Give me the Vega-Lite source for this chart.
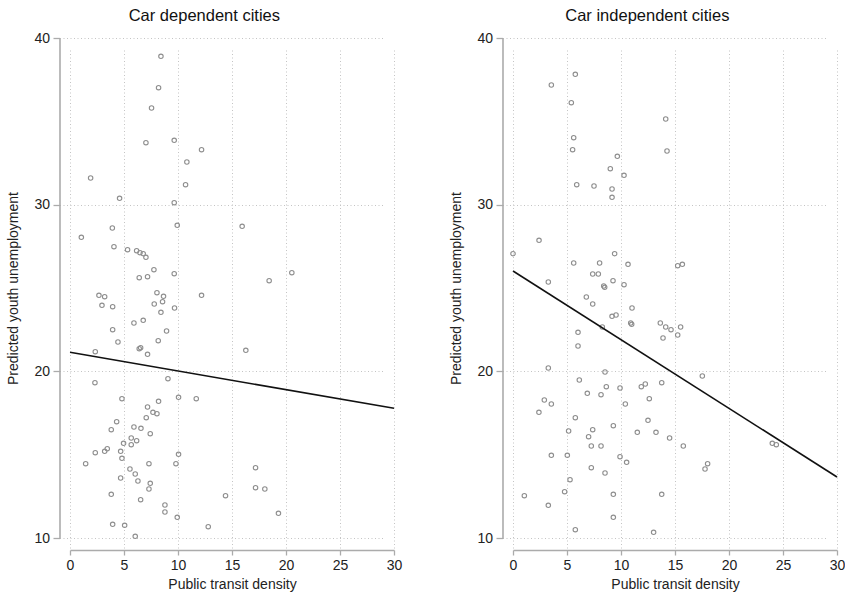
{
  "$schema": "https://vega.github.io/schema/vega-lite/v6.json",
  "padding": {"left": 6, "top": 7, "right": 0, "bottom": 0},
  "background": "white",
  "config": {
    "view": {"stroke": null},
    "font": "Liberation Sans",
    "axis": {
      "domainColor": "#ababab",
      "domainWidth": 1.6,
      "tickColor": "#ababab",
      "tickSize": 6.5,
      "tickWidth": 1.3,
      "labelFontSize": 14,
      "labelColor": "#222222",
      "labelPadding": 3.5,
      "labelFlush": false,
      "labelOverlap": false,
      "titleFontSize": 14,
      "titleFontWeight": "normal",
      "titleColor": "#222222",
      "gridColor": "#c4c4c4",
      "gridDash": [1, 2.5],
      "gridWidth": 1
    },
    "axisX": {"offset": 12, "tickSize": 5, "titlePadding": 5},
    "axisY": {"offset": 10.5, "titlePadding": 13},
    "title": {"fontSize": 16.5, "fontWeight": "normal", "color": "#111111", "frame": "bounds", "anchor": "middle", "offset": 7},
    "concat": {"spacing": 47}
  },
  "datasets": {
    "dep": [
      {"density": 8.42, "unemp": 38.9}, {"density": 8.2, "unemp": 37.02}, {"density": 7.55, "unemp": 35.8},
      {"density": 7.03, "unemp": 33.72}, {"density": 9.65, "unemp": 33.86}, {"density": 12.18, "unemp": 33.3},
      {"density": 10.82, "unemp": 32.56}, {"density": 10.7, "unemp": 31.2}, {"density": 1.91, "unemp": 31.6},
      {"density": 4.59, "unemp": 30.38}, {"density": 9.65, "unemp": 30.12}, {"density": 9.93, "unemp": 28.76},
      {"density": 15.94, "unemp": 28.7}, {"density": 3.92, "unemp": 28.6}, {"density": 1.05, "unemp": 28.04},
      {"density": 4.07, "unemp": 27.48}, {"density": 5.33, "unemp": 27.3}, {"density": 6.17, "unemp": 27.24},
      {"density": 6.48, "unemp": 27.12}, {"density": 6.78, "unemp": 27.06}, {"density": 7.03, "unemp": 26.84},
      {"density": 7.77, "unemp": 26.1}, {"density": 6.41, "unemp": 25.62}, {"density": 7.18, "unemp": 25.68},
      {"density": 9.65, "unemp": 25.86}, {"density": 18.44, "unemp": 25.44}, {"density": 20.54, "unemp": 25.92},
      {"density": 2.68, "unemp": 24.56}, {"density": 3.21, "unemp": 24.48}, {"density": 8.05, "unemp": 24.72},
      {"density": 8.66, "unemp": 24.5}, {"density": 12.18, "unemp": 24.56}, {"density": 2.96, "unemp": 23.96},
      {"density": 3.95, "unemp": 23.88}, {"density": 8.57, "unemp": 24.18}, {"density": 7.8, "unemp": 24.04},
      {"density": 9.68, "unemp": 23.8}, {"density": 8.42, "unemp": 23.54}, {"density": 6.78, "unemp": 23.06},
      {"density": 5.92, "unemp": 22.9}, {"density": 3.95, "unemp": 22.5}, {"density": 8.94, "unemp": 22.42},
      {"density": 8.17, "unemp": 21.84}, {"density": 4.44, "unemp": 21.76}, {"density": 6.41, "unemp": 21.36},
      {"density": 6.54, "unemp": 21.42}, {"density": 7.18, "unemp": 21.02}, {"density": 2.34, "unemp": 21.18},
      {"density": 16.28, "unemp": 21.26}, {"density": 2.31, "unemp": 19.32}, {"density": 9.07, "unemp": 19.56},
      {"density": 4.81, "unemp": 18.36}, {"density": 8.2, "unemp": 18.2}, {"density": 10.05, "unemp": 18.44},
      {"density": 11.69, "unemp": 18.36}, {"density": 7.18, "unemp": 17.86}, {"density": 7.68, "unemp": 17.54},
      {"density": 8.05, "unemp": 17.46}, {"density": 7.06, "unemp": 17.22}, {"density": 4.32, "unemp": 16.98},
      {"density": 5.92, "unemp": 16.66}, {"density": 6.57, "unemp": 16.58}, {"density": 3.82, "unemp": 16.5},
      {"density": 7.43, "unemp": 16.26}, {"density": 5.67, "unemp": 16.0}, {"density": 6.17, "unemp": 15.84},
      {"density": 4.96, "unemp": 15.68}, {"density": 5.67, "unemp": 15.6}, {"density": 3.45, "unemp": 15.36},
      {"density": 3.21, "unemp": 15.2}, {"density": 2.34, "unemp": 15.12}, {"density": 4.69, "unemp": 15.2},
      {"density": 10.05, "unemp": 15.02}, {"density": 4.81, "unemp": 14.78}, {"density": 1.45, "unemp": 14.46},
      {"density": 7.31, "unemp": 14.46}, {"density": 9.81, "unemp": 14.46}, {"density": 17.18, "unemp": 14.22},
      {"density": 5.55, "unemp": 14.14}, {"density": 6.04, "unemp": 13.84}, {"density": 4.69, "unemp": 13.6},
      {"density": 6.29, "unemp": 13.42}, {"density": 7.43, "unemp": 13.28}, {"density": 7.31, "unemp": 12.94},
      {"density": 17.18, "unemp": 13.02}, {"density": 18.04, "unemp": 12.94}, {"density": 3.82, "unemp": 12.62},
      {"density": 14.4, "unemp": 12.54}, {"density": 6.54, "unemp": 12.3}, {"density": 8.79, "unemp": 11.98},
      {"density": 8.79, "unemp": 11.56}, {"density": 19.3, "unemp": 11.48}, {"density": 9.93, "unemp": 11.24},
      {"density": 3.95, "unemp": 10.82}, {"density": 5.06, "unemp": 10.76}, {"density": 12.8, "unemp": 10.68},
      {"density": 6.04, "unemp": 10.1}
    ],
    "depfit": [{"density": 0, "unemp": 21.14}, {"density": 30, "unemp": 17.78}],
    "ind": [
      {"density": 5.77, "unemp": 37.82}, {"density": 3.55, "unemp": 37.18}, {"density": 5.4, "unemp": 36.12},
      {"density": 5.62, "unemp": 34.02}, {"density": 5.52, "unemp": 33.3}, {"density": 14.14, "unemp": 35.14},
      {"density": 14.26, "unemp": 33.22}, {"density": 9.66, "unemp": 32.9}, {"density": 9.01, "unemp": 32.16},
      {"density": 10.28, "unemp": 31.76}, {"density": 5.9, "unemp": 31.2}, {"density": 7.5, "unemp": 31.12},
      {"density": 9.17, "unemp": 30.94}, {"density": 9.17, "unemp": 30.44}, {"density": 2.41, "unemp": 27.86},
      {"density": 0.0, "unemp": 27.06}, {"density": 9.41, "unemp": 27.06}, {"density": 5.62, "unemp": 26.5},
      {"density": 8.02, "unemp": 26.5}, {"density": 10.65, "unemp": 26.42}, {"density": 15.25, "unemp": 26.34},
      {"density": 15.68, "unemp": 26.42}, {"density": 7.38, "unemp": 25.84}, {"density": 7.9, "unemp": 25.84},
      {"density": 3.27, "unemp": 25.36}, {"density": 9.26, "unemp": 25.44}, {"density": 8.4, "unemp": 25.12},
      {"density": 8.49, "unemp": 25.04}, {"density": 10.28, "unemp": 25.2}, {"density": 6.79, "unemp": 24.46},
      {"density": 7.38, "unemp": 24.04}, {"density": 11.02, "unemp": 23.8}, {"density": 9.17, "unemp": 23.3},
      {"density": 9.54, "unemp": 23.38}, {"density": 10.9, "unemp": 22.9}, {"density": 10.99, "unemp": 22.82},
      {"density": 13.64, "unemp": 22.9}, {"density": 14.14, "unemp": 22.66}, {"density": 14.63, "unemp": 22.5},
      {"density": 15.52, "unemp": 22.66}, {"density": 15.25, "unemp": 22.18}, {"density": 13.89, "unemp": 22.0},
      {"density": 8.27, "unemp": 22.66}, {"density": 6.02, "unemp": 22.34}, {"density": 6.02, "unemp": 21.52},
      {"density": 3.27, "unemp": 20.2}, {"density": 8.52, "unemp": 19.96}, {"density": 17.53, "unemp": 19.72},
      {"density": 6.14, "unemp": 19.48}, {"density": 13.77, "unemp": 19.32}, {"density": 12.25, "unemp": 19.24},
      {"density": 11.88, "unemp": 19.08}, {"density": 8.64, "unemp": 19.08}, {"density": 9.91, "unemp": 19.0},
      {"density": 6.88, "unemp": 18.68}, {"density": 8.15, "unemp": 18.6}, {"density": 12.62, "unemp": 18.36},
      {"density": 2.9, "unemp": 18.28}, {"density": 3.55, "unemp": 18.04}, {"density": 10.4, "unemp": 18.04},
      {"density": 2.4, "unemp": 17.54}, {"density": 5.77, "unemp": 17.22}, {"density": 12.5, "unemp": 17.06},
      {"density": 9.29, "unemp": 16.74}, {"density": 5.15, "unemp": 16.42}, {"density": 7.38, "unemp": 16.5},
      {"density": 11.51, "unemp": 16.34}, {"density": 13.24, "unemp": 16.34}, {"density": 7.0, "unemp": 16.08},
      {"density": 14.5, "unemp": 16.0}, {"density": 7.25, "unemp": 15.52}, {"density": 8.15, "unemp": 15.52},
      {"density": 15.77, "unemp": 15.52}, {"density": 24.01, "unemp": 15.68}, {"density": 24.38, "unemp": 15.6},
      {"density": 3.55, "unemp": 14.96}, {"density": 5.03, "unemp": 14.96}, {"density": 9.91, "unemp": 14.88},
      {"density": 10.52, "unemp": 14.54}, {"density": 18.02, "unemp": 14.46}, {"density": 17.78, "unemp": 14.14},
      {"density": 7.25, "unemp": 14.22}, {"density": 8.52, "unemp": 13.9}, {"density": 5.28, "unemp": 13.5},
      {"density": 4.78, "unemp": 12.78}, {"density": 9.29, "unemp": 12.62}, {"density": 13.77, "unemp": 12.62},
      {"density": 1.05, "unemp": 12.54}, {"density": 3.27, "unemp": 11.96}, {"density": 9.29, "unemp": 11.24},
      {"density": 5.77, "unemp": 10.5}, {"density": 13.02, "unemp": 10.34}
    ],
    "indfit": [{"density": 0, "unemp": 26.02}, {"density": 30, "unemp": 13.66}]
  },
  "hconcat": [
    {
      "title": {"text": "Car dependent cities"},
      "width": 324,
      "height": 500,
      "layer": [
        {
          "data": {"name": "dep"},
          "mark": {"type": "point", "shape": "circle", "filled": false, "color": "#8e8e8e", "size": 20, "strokeWidth": 1.1, "opacity": 1},
          "encoding": {
            "x": {"field": "density", "type": "quantitative", "scale": {"domain": [0, 30], "nice": false}, "axis": {"values": [0, 5, 10, 15, 20, 25, 30], "title": "Public transit density"}},
            "y": {"field": "unemp", "type": "quantitative", "scale": {"domain": [10, 40], "nice": false, "zero": false}, "axis": {"values": [10, 20, 30, 40], "title": "Predicted youth unemployment"}}
          }
        },
        {
          "data": {"name": "depfit"},
          "mark": {"type": "line", "color": "#111111", "strokeWidth": 1.6},
          "encoding": {
            "x": {"field": "density", "type": "quantitative"},
            "y": {"field": "unemp", "type": "quantitative"}
          }
        }
      ]
    },
    {
      "title": {"text": "Car independent cities"},
      "width": 324,
      "height": 500,
      "layer": [
        {
          "data": {"name": "ind"},
          "mark": {"type": "point", "shape": "circle", "filled": false, "color": "#8e8e8e", "size": 20, "strokeWidth": 1.1, "opacity": 1},
          "encoding": {
            "x": {"field": "density", "type": "quantitative", "scale": {"domain": [0, 30], "nice": false}, "axis": {"values": [0, 5, 10, 15, 20, 25, 30], "title": "Public transit density"}},
            "y": {"field": "unemp", "type": "quantitative", "scale": {"domain": [10, 40], "nice": false, "zero": false}, "axis": {"values": [10, 20, 30, 40], "title": "Predicted youth unemployment"}}
          }
        },
        {
          "data": {"name": "indfit"},
          "mark": {"type": "line", "color": "#111111", "strokeWidth": 1.6},
          "encoding": {
            "x": {"field": "density", "type": "quantitative"},
            "y": {"field": "unemp", "type": "quantitative"}
          }
        }
      ]
    }
  ]
}
